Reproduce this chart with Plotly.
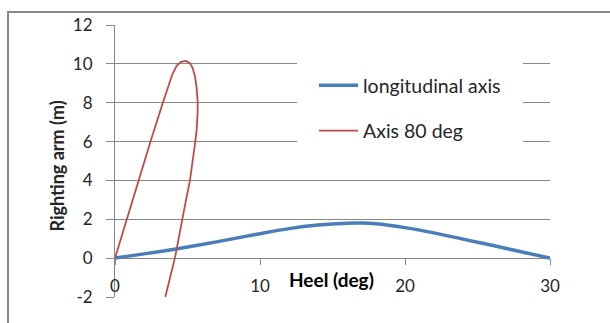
import plotly.graph_objects as go

# Data
long_x = [0, 2, 4, 6, 8, 10, 12, 14, 16, 17, 18, 20, 22, 24, 26, 28, 30]
long_y = [0, 0.22, 0.45, 0.7, 0.98, 1.26, 1.52, 1.7, 1.8, 1.81, 1.77, 1.57, 1.3, 0.98, 0.66, 0.33, 0]

ax80_x = [0, 0.8, 1.62, 2.45, 3.3, 3.65, 3.95, 4.25, 4.55, 4.9, 5.15, 5.35, 5.52, 5.63, 5.7,
          5.7, 5.63, 5.52, 5.35, 5.17, 4.9, 4.62, 4.13, 3.8, 3.47]
ax80_y = [0, 2, 4, 6, 8, 8.8, 9.45, 9.9, 10.1, 10.15, 10.05, 9.8, 9.35, 8.75, 8.1,
          7.5, 6.6, 5.9, 4.9, 4.0, 3.0, 1.9, 0, -1.0, -2]

x_ticks = [0, 10, 20, 30]
y_ticks = [-2, 0, 2, 4, 6, 8, 10, 12]
y_labels = ["-2", "0", "2", "4", "6", "8", "10", "12"]

FONT = "Lato"
GRID = "#878787"
TXT = "#262626"

fig = go.Figure()
fig.add_trace(go.Scatter(x=long_x, y=long_y, mode="lines", name="longitudinal axis",
                         line=dict(color="#4A7EBB", width=3.5, shape="spline", smoothing=0.8),
                         legendgroup="a"))
fig.add_trace(go.Scatter(x=ax80_x, y=ax80_y, mode="lines", name="Axis 80 deg",
                         line=dict(color="#BE4B48", width=1.8),
                         legendgroup="b"))

L, R, T, B = 115, 60, 25, 26
W, H = 610, 323

fig.update_layout(
    width=W, height=H,
    margin=dict(l=L, r=R, t=T, b=B),
    paper_bgcolor="white", plot_bgcolor="white",
    font=dict(family=FONT, size=17, color=TXT),
    showlegend=True,
    legend=dict(x=(297 - L) / (W - L - R), y=(H - B - 49) / (H - T - B),
                xanchor="left", yanchor="top",
                bgcolor="white", bordercolor="white", borderwidth=17,
                font=dict(family=FONT, size=19.5, color=TXT),
                traceorder="grouped", tracegroupgap=17, itemwidth=39),
    xaxis=dict(range=[0, 30], tickvals=x_ticks, ticktext=[str(v) for v in x_ticks],
               showgrid=False, zeroline=False, showline=False,
               anchor="free", position=2 / 14,
               ticks="outside", ticklen=6, tickcolor=GRID, tickwidth=1,
               ticklabelstandoff=6,
               tickfont=dict(family=FONT, size=17, color=TXT)),
    yaxis=dict(range=[-2, 12], tickvals=y_ticks, ticktext=y_labels,
               showgrid=True, gridcolor=GRID, gridwidth=1,
               zeroline=True, zerolinecolor=GRID, zerolinewidth=1,
               showline=True, linecolor=GRID, linewidth=1,
               ticks="outside", ticklen=8, tickcolor=GRID, tickwidth=1,
               ticklabelstandoff=10,
               tickfont=dict(family=FONT, size=17, color=TXT)),
    shapes=[dict(type="rect", xref="paper", yref="paper",
                 x0=(8 - L) / (W - L - R), x1=1.3,
                 y0=-0.3, y1=(H - B - 12) / (H - T - B),
                 line=dict(color="#888888", width=2), fillcolor="rgba(0,0,0,0)",
                 layer="below")],
    annotations=[
        dict(x=14.9, y=-1.1, xref="x", yref="y", text="<b>Heel (deg)</b>",
             showarrow=False, font=dict(family=FONT, size=19, color="#000000")),
        dict(x=(57 - L) / (W - L - R), y=0.48, xref="paper", yref="paper",
             text="<b>Righting arm (m)</b>",
             showarrow=False, textangle=-90, xanchor="center", yanchor="middle",
             font=dict(family=FONT, size=18, color=TXT)),
    ],
)

fig.write_html("out.html")
